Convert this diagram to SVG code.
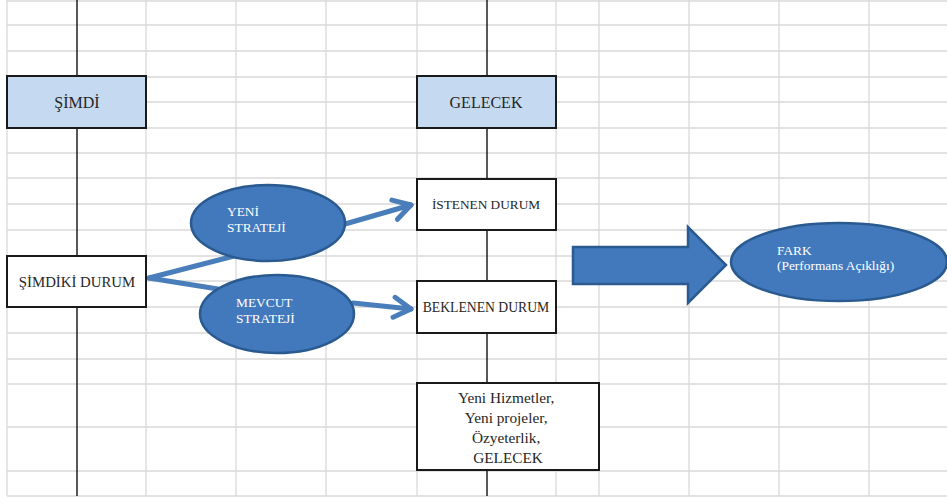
<svg xmlns="http://www.w3.org/2000/svg" width="947" height="499" viewBox="0 0 947 499">
  <style>
    .grid line { stroke: #d9d9d9; stroke-width: 1.3; }
    .axis { stroke: #111; stroke-width: 1.4; }
    .box { stroke: #1a1a1a; stroke-width: 2; }
    .head { fill: #c5d9f0; }
    .plain { fill: #fff; }
    .blob { fill: #4279bd; stroke: #2a5a90; stroke-width: 2.5; }
    text { font-family: 'Liberation Serif', 'Times New Roman', serif; }
    .txt { fill: #262626; }
    .wtxt { fill: #fff; font-size: 13.4px; }
    .link { stroke: #4a7ebb; stroke-width: 5; fill: none; stroke-linecap: round; }
  </style>
  <defs>
    <marker id="chev" markerUnits="userSpaceOnUse" markerWidth="1" markerHeight="1" refX="0" refY="0" orient="auto" overflow="visible">
      <path d="M -17 -10 L 0 0 L -17 10" fill="none" stroke="#4a7ebb" stroke-width="5" stroke-linecap="round" stroke-linejoin="round"/>
    </marker>
  </defs>

  <rect width="947" height="499" fill="#fff"/>

  <!-- spreadsheet grid -->
  <g class="grid">
    <line x1="7" y1="0" x2="7" y2="496"/>
    <line x1="146" y1="0" x2="146" y2="496"/>
    <line x1="236" y1="0" x2="236" y2="496"/>
    <line x1="326" y1="0" x2="326" y2="496"/>
    <line x1="417" y1="0" x2="417" y2="496"/>
    <line x1="556" y1="0" x2="556" y2="496"/>
    <line x1="599" y1="0" x2="599" y2="496"/>
    <line x1="689" y1="0" x2="689" y2="496"/>
    <line x1="779" y1="0" x2="779" y2="496"/>
    <line x1="869" y1="0" x2="869" y2="496"/>
    <line x1="7" y1="1" x2="947" y2="1"/>
    <line x1="7" y1="25" x2="947" y2="25"/>
    <line x1="7" y1="51" x2="947" y2="51"/>
    <line x1="7" y1="77" x2="947" y2="77"/>
    <line x1="7" y1="102" x2="947" y2="102"/>
    <line x1="7" y1="128" x2="947" y2="128"/>
    <line x1="7" y1="153" x2="947" y2="153"/>
    <line x1="7" y1="178" x2="947" y2="178"/>
    <line x1="7" y1="204" x2="947" y2="204"/>
    <line x1="7" y1="230" x2="947" y2="230"/>
    <line x1="7" y1="256" x2="947" y2="256"/>
    <line x1="7" y1="281" x2="947" y2="281"/>
    <line x1="7" y1="307" x2="947" y2="307"/>
    <line x1="7" y1="333" x2="947" y2="333"/>
    <line x1="7" y1="359" x2="947" y2="359"/>
    <line x1="7" y1="384" x2="947" y2="384"/>
    <line x1="7" y1="427" x2="947" y2="427"/>
    <line x1="7" y1="471" x2="947" y2="471"/>
    <line x1="7" y1="496" x2="947" y2="496"/>
  </g>

  <!-- timelines -->
  <g id="timelines">
    <line class="axis" x1="77" y1="0" x2="77" y2="496"/>
    <line class="axis" x1="487" y1="0" x2="487" y2="496"/>
  </g>

  <!-- connectors -->
  <g id="connectors">
    <line class="link" x1="149" y1="278" x2="234" y2="256"/>
    <line class="link" x1="149" y1="278" x2="218" y2="289"/>
    <line class="link" x1="345" y1="224" x2="411" y2="205" marker-end="url(#chev)"/>
    <line class="link" x1="353" y1="303" x2="411" y2="309" marker-end="url(#chev)"/>
  </g>

  <g id="simdi">
    <rect class="box head" x="7" y="76" width="139" height="52"/>
    <text class="txt" x="77" y="108" font-size="16" text-anchor="middle">ŞİMDİ</text>
  </g>

  <g id="gelecek">
    <rect class="box head" x="417" y="76" width="139" height="52"/>
    <text class="txt" x="486" y="108" font-size="16" text-anchor="middle">GELECEK</text>
  </g>

  <g id="simdiki-durum">
    <rect class="box plain" x="7" y="256" width="139" height="51"/>
    <text class="txt" x="77" y="287" font-size="14.8" text-anchor="middle">ŞİMDİKİ DURUM</text>
  </g>

  <g id="istenen-durum">
    <rect class="box plain" x="417" y="179" width="139" height="51"/>
    <text class="txt" x="486" y="209" font-size="13.3" text-anchor="middle">İSTENEN DURUM</text>
  </g>

  <g id="beklenen-durum">
    <rect class="box plain" x="417" y="281" width="139" height="52"/>
    <text class="txt" x="486" y="312" font-size="13.7" text-anchor="middle">BEKLENEN DURUM</text>
  </g>

  <g id="gelecek-detay">
    <rect class="box plain" x="417" y="383" width="182" height="87"/>
    <text class="txt" font-size="15.3" text-anchor="middle">
      <tspan x="508" y="403">Yeni Hizmetler,</tspan>
      <tspan x="508" y="423">Yeni projeler,</tspan>
      <tspan x="508" y="443">Özyeterlik,</tspan>
      <tspan x="508" y="463">GELECEK</tspan>
    </text>
  </g>

  <g id="yeni-strateji">
    <ellipse class="blob" cx="268" cy="223" rx="77" ry="38"/>
    <text class="wtxt">
      <tspan x="227" y="216">YENİ</tspan>
      <tspan x="227" y="232">STRATEJİ</tspan>
    </text>
  </g>

  <g id="mevcut-strateji">
    <ellipse class="blob" cx="277" cy="314" rx="77" ry="39"/>
    <text class="wtxt">
      <tspan x="236" y="307">MEVCUT</tspan>
      <tspan x="236" y="323">STRATEJİ</tspan>
    </text>
  </g>

  <g id="buyuk-ok">
    <path class="blob" stroke-width="3" d="M 573 247 L 688 247 L 688 227 L 726 265 L 688 303 L 688 284 L 573 284 Z"/>
  </g>

  <g id="fark">
    <ellipse class="blob" cx="839" cy="262" rx="108" ry="39"/>
    <text class="wtxt">
      <tspan x="777" y="255">FARK</tspan>
      <tspan x="777" y="270">(Performans Açıklığı)</tspan>
    </text>
  </g>
</svg>
